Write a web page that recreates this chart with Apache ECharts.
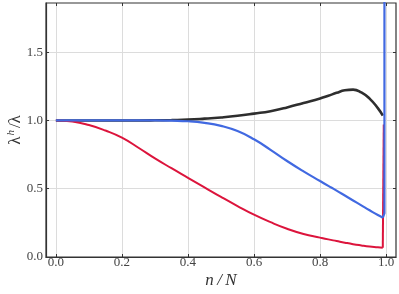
<!DOCTYPE html>
<html>
<head>
<meta charset="utf-8">
<script src="https://cdn.jsdelivr.net/npm/echarts@6/dist/echarts.min.js"></script>
<style>
  html, body { margin: 0; padding: 0; background: #fff; }
  #main { width: 399px; height: 294px; }
</style>
</head>
<body>
<div id="main"></div>
<script>
  // n/N sample positions
  var xs = [0, 0.05, 0.1, 0.15, 0.2, 0.25, 0.3, 0.35, 0.4, 0.45, 0.5, 0.55, 0.6, 0.65, 0.7, 0.75, 0.8, 0.825, 0.85, 0.875, 0.9, 0.925, 0.95, 0.975, 0.99];
  var blackVals = [1.0, 1.0, 1.0, 1.0, 1.0, 1.0, 1.001, 1.003, 1.006, 1.013, 1.022, 1.034, 1.05, 1.068, 1.095, 1.128, 1.161, 1.181, 1.202, 1.221, 1.226, 1.205, 1.16, 1.09, 1.035];
  var redVals = [1.0, 0.992, 0.966, 0.926, 0.874, 0.80, 0.722, 0.65, 0.58, 0.51, 0.44, 0.373, 0.31, 0.255, 0.207, 0.169, 0.142, 0.129, 0.117, 0.105, 0.094, 0.085, 0.077, 0.071, 0.067];
  var blueVals = [1.0, 1.0, 1.0, 1.0, 1.0, 1.0, 1.0, 0.998, 0.994, 0.982, 0.96, 0.922, 0.862, 0.785, 0.703, 0.627, 0.556, 0.521, 0.486, 0.45, 0.414, 0.378, 0.342, 0.307, 0.288];
  // jump at the last site
  var redTail = [[0.99, 0.067], [0.993, 0.067], [0.993, 0.97]];
  var blueTail = [[0.99, 0.288], [0.995, 0.32], [0.995, 3.0]];
  var xTicks = [0, 0.2, 0.4, 0.6, 0.8, 1.0];
  var yTicks = [0, 0.5, 1.0, 1.5];

  function pairs(x, y) {
    var out = [];
    for (var i = 0; i < x.length; i++) out.push([x[i], y[i]]);
    return out;
  }

  var font = 'Liberation Serif, DejaVu Serif, serif';
  function curve(data, color, width) {
    return { type: 'line', data: data, symbol: 'none', smooth: 0.5, lineStyle: { color: color, width: width } };
  }
  function tail(data, color, width) {
    return { type: 'line', data: data, symbol: 'none', smooth: false, lineStyle: { color: color, width: width } };
  }

  var myChart = echarts.init(document.getElementById('main'));
  myChart.setOption({
    animation: false,
    grid: { left: 46, right: 3, top: 3, bottom: 37, outerBoundsMode: 'none', containLabel: false, show: true, borderColor: '#333', borderWidth: 1.2, backgroundColor: '#fff' },
    xAxis: [{
      type: 'value', min: -0.03, max: 1.03,
      name: 'n\u2009/\u2009N', nameLocation: 'middle', nameGap: 15, nameMoveOverlap: false,
      nameTextStyle: { fontFamily: font, fontStyle: 'italic', fontSize: 17, color: '#333' },
      axisLine: { show: true, onZero: false, lineStyle: { color: '#333', width: 1.2 } },
      axisTick: { show: true, inside: true, length: 3, customValues: xTicks, lineStyle: { color: '#333' } },
      axisLabel: { customValues: xTicks, margin: 0, lineHeight: 12, fontFamily: font, fontSize: 13, color: '#444', formatter: function (v) { return v.toFixed(1); } },
      splitLine: { show: true, lineStyle: { color: '#dcdcdc', width: 1 } }
    }, {
      type: 'value', position: 'top', min: -0.03, max: 1.03,
      axisLine: { show: false, onZero: false },
      axisTick: { show: true, inside: true, length: 3, customValues: xTicks, lineStyle: { color: '#333' } },
      axisLabel: { show: false },
      splitLine: { show: false }
    }],
    yAxis: [{
      type: 'value', min: 0, max: 1.86,
      name: '{l|λ}{h|h}{l|/λ}', nameLocation: 'middle', nameGap: 22, nameRotate: 90, nameMoveOverlap: false,
      nameTextStyle: {
        fontFamily: font, fontSize: 16, color: '#333',
        rich: {
          l: { fontFamily: font, fontSize: 17, color: '#333', lineHeight: 18, verticalAlign: 'bottom' },
          h: { fontFamily: font, fontStyle: 'italic', fontSize: 11, color: '#333', lineHeight: 18, verticalAlign: 'top', padding: [0, 2, 0, 1] }
        }
      },
      axisLine: { show: true, onZero: false, lineStyle: { color: '#333', width: 1.2 } },
      axisTick: { show: true, inside: true, length: 3, customValues: yTicks, lineStyle: { color: '#333' } },
      axisLabel: { customValues: yTicks, margin: 3, fontFamily: font, fontSize: 13, color: '#444', formatter: function (v) { return v.toFixed(1); } },
      splitLine: { show: true, lineStyle: { color: '#dcdcdc', width: 1 } }
    }, {
      type: 'value', position: 'right', min: 0, max: 1.86,
      axisLine: { show: false, onZero: false },
      axisTick: { show: true, inside: true, length: 3, customValues: yTicks, lineStyle: { color: '#333' } },
      axisLabel: { show: false },
      splitLine: { show: false }
    }],
    series: [
      curve(pairs(xs, blackVals), '#2e2e2e', 2.6),
      curve(pairs(xs, redVals), '#dc143c', 2),
      tail(redTail, '#dc143c', 2),
      curve(pairs(xs, blueVals), '#4169e1', 2.2),
      tail(blueTail, '#4169e1', 2.2)
    ]
  });
</script>
</body>
</html>
